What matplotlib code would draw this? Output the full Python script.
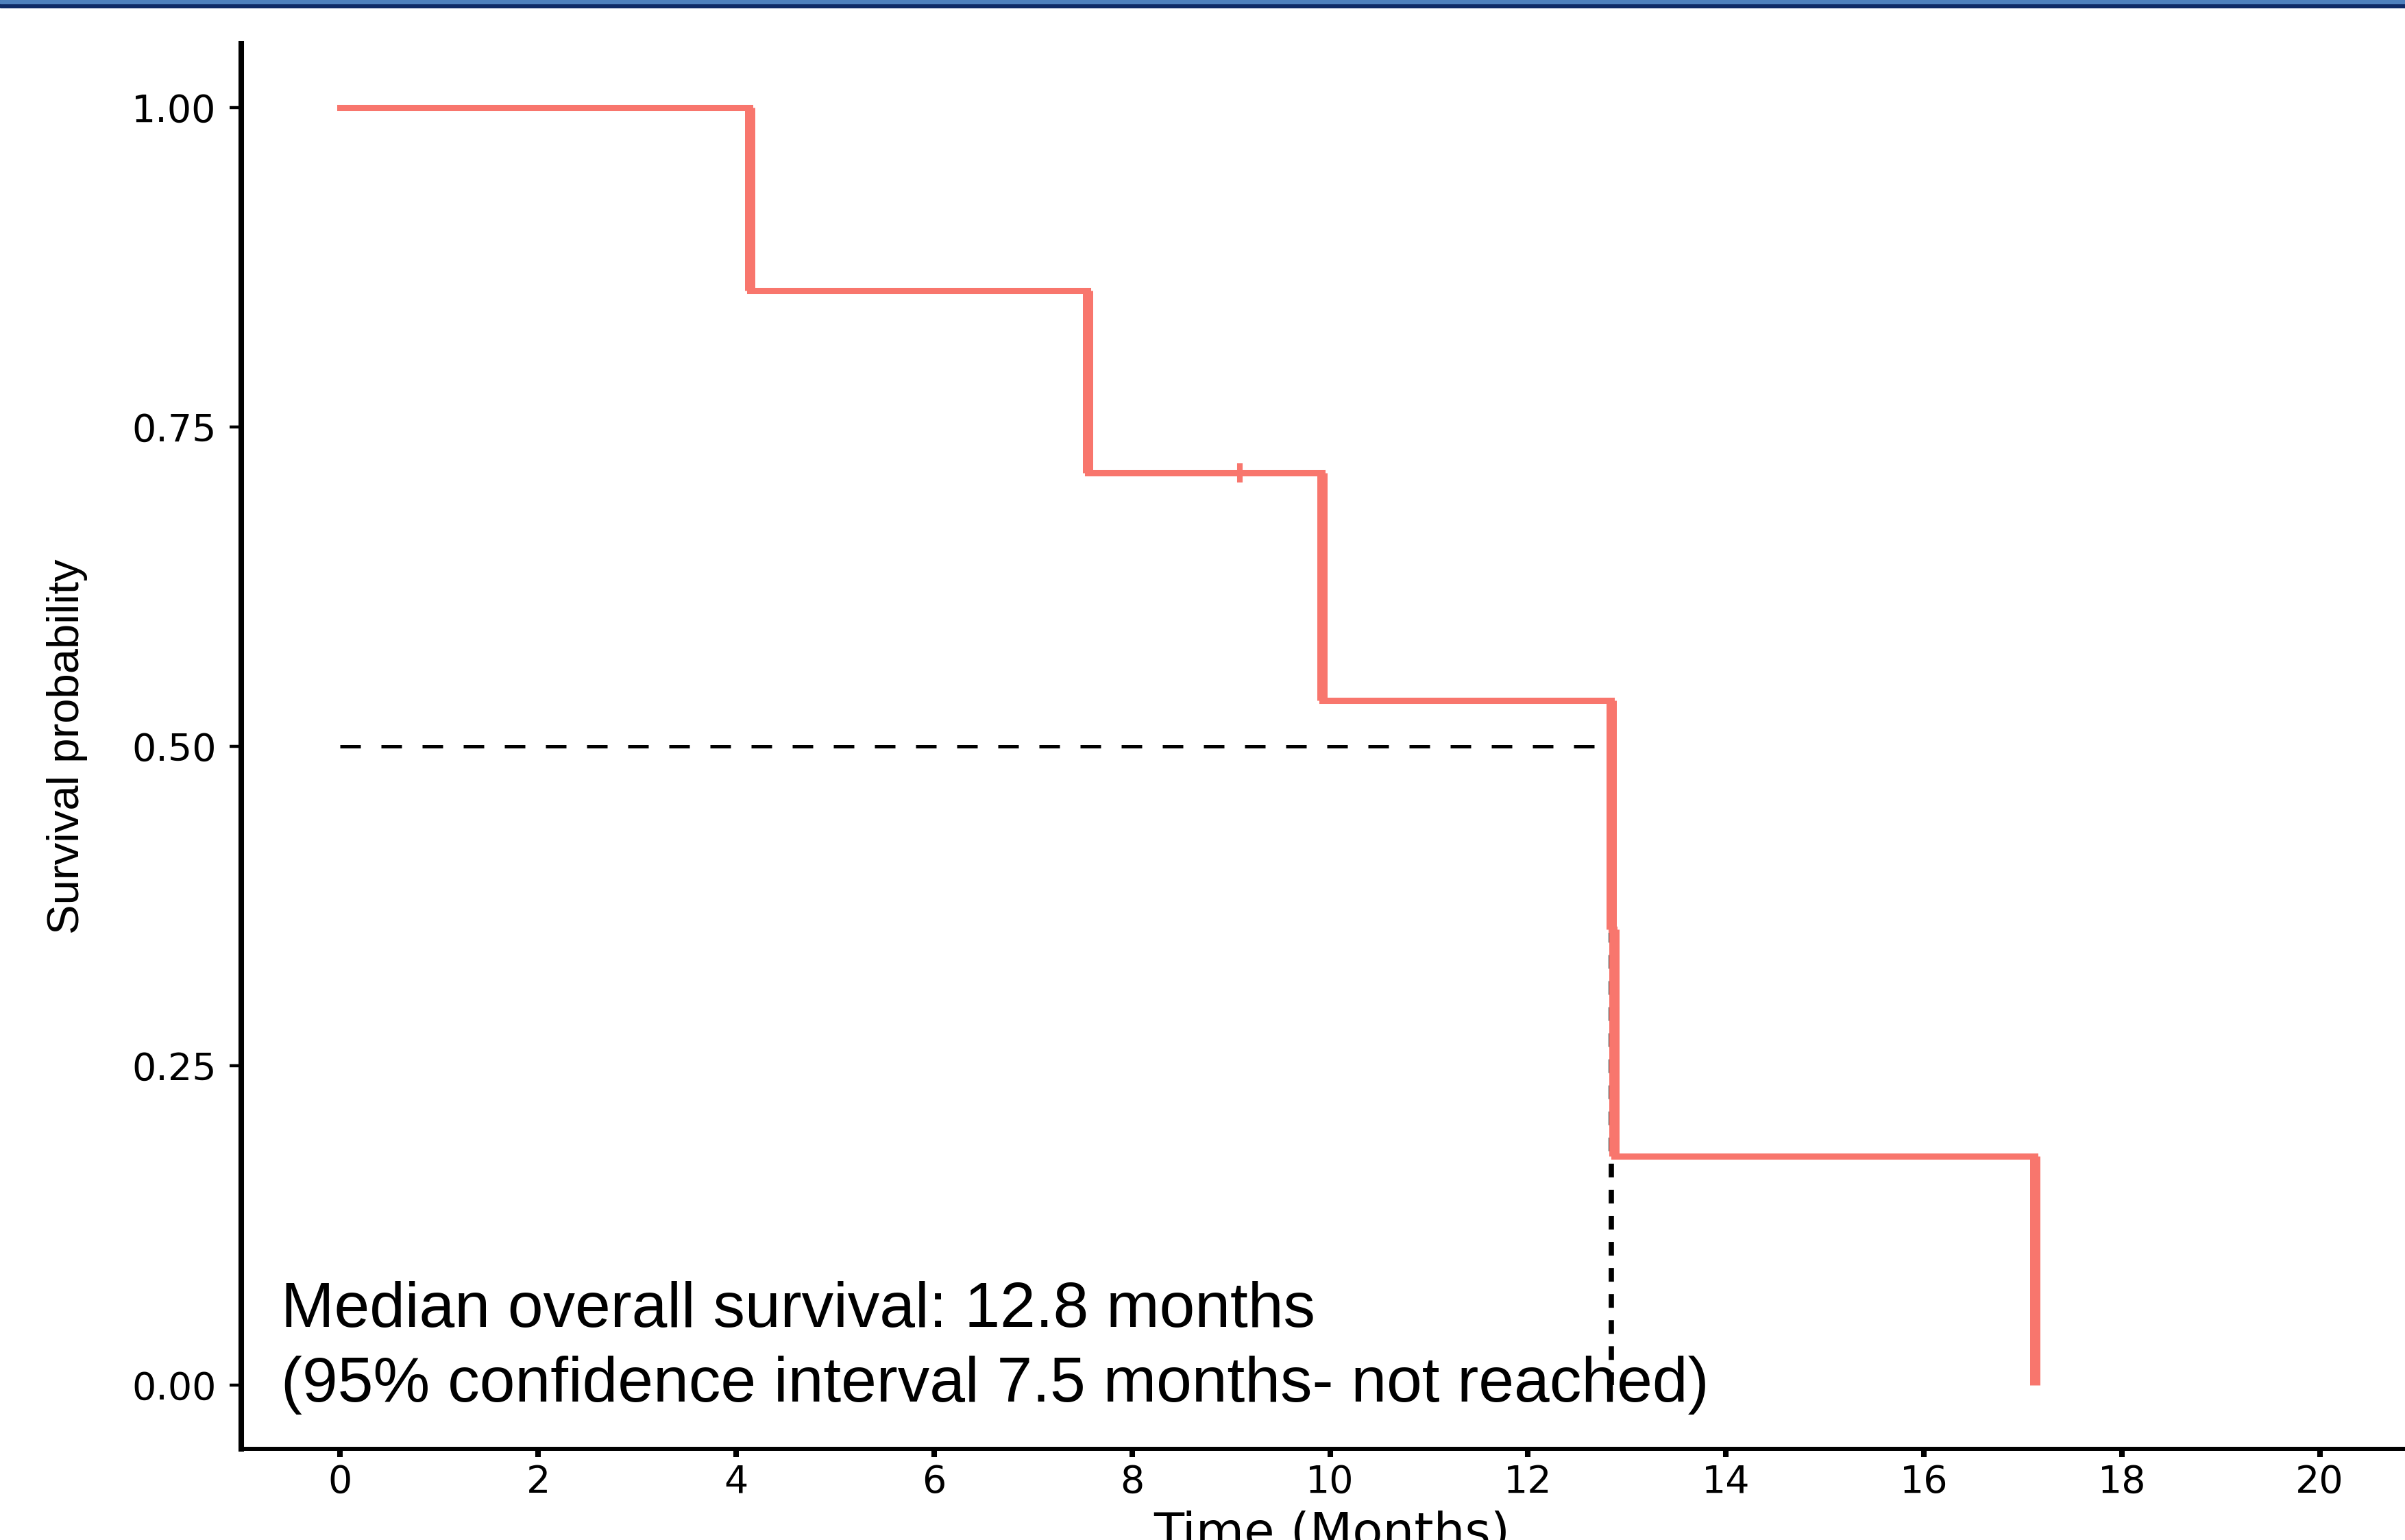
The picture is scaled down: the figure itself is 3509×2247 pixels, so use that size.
import numpy as np
import matplotlib
matplotlib.use('Agg')
import matplotlib.pyplot as plt
from matplotlib.patches import Rectangle

# Kaplan-Meier steps
times = [0, 4.14, 7.55, 9.92, 12.84, 12.87, 17.12]
surv = [1.0, 0.857, 0.714, 0.536, 0.357, 0.179, 0.0]
censor_times = [9.09]
censor_surv = [0.714]
median_time = 12.84

x_ticks = [0, 2, 4, 6, 8, 10, 12, 14, 16, 18, 20]
y_ticks = [0.0, 0.25, 0.50, 0.75, 1.00]
y_tick_labels = ['0.00', '0.25', '0.50', '0.75', '1.00']
note = ('Median overall survival: 12.8 months\n'
        '(95% confidence interval 7.5 months- not reached)')

red = '#F8766D'
W, H = 3509, 2247
plt.rcParams['lines.scale_dashes'] = False

fig = plt.figure(figsize=(W / 100, H / 100), dpi=100)
# axes runs a little past the right edge, as in the (cropped) original
ax = fig.add_axes([352 / W, 1 - 2114 / H, (3529 - 352) / W, 2050 / H])

# survival curve: horizontal and vertical parts drawn separately
ax.hlines(surv[:-1], times[:-1], times[1:], color=red, lw=6.5, capstyle='projecting', zorder=3)
ax.vlines(times[1:], surv[1:], surv[:-1], color=red, lw=10.8, capstyle='butt', zorder=3)
ax.plot(censor_times, censor_surv, ls='none', marker='|', ms=20, mew=5.8, color=red, zorder=4)

# median lines
ax.plot([0, median_time], [0.5, 0.5], color='black', lw=3.6, dashes=(21.6, 21.6), zorder=2)
ax.plot([median_time, median_time], [0.5, 0], color='black', lw=5.5, dashes=(14.4, 13), zorder=2)

ax.text(-0.60, 0.0815, note, ha='left', va='top', fontsize=67,
        family=['Liberation Sans', 'DejaVu Sans'], linespacing=1.35, zorder=5)

ax.set_xlim(-1, 21)
ax.set_ylim(-0.05, 1.05)
ax.set_xticks(x_ticks)
ax.set_xticklabels([str(t) for t in x_ticks])
ax.set_yticks(y_ticks)
ax.set_yticklabels(y_tick_labels)

for s in ['top', 'right']:
    ax.spines[s].set_visible(False)
ax.spines['left'].set_linewidth(5.8)
ax.spines['bottom'].set_linewidth(4.3)

ax.tick_params(axis='x', length=8.6, width=5.8, pad=7, labelsize=40, colors='black')
ax.tick_params(axis='y', length=12.2, width=3.2, pad=14, labelsize=40, colors='black')
for lab in ax.get_xticklabels() + ax.get_yticklabels():
    lab.set_family('DejaVu Sans')

ax.set_xlabel('Time (Months)', fontsize=52, family='DejaVu Sans')
ax.xaxis.set_label_coords(0.5 * (3509 - 352) / (3529 - 352) + 0.004, -0.0435)
ax.xaxis.label.set_va('top')

ax.set_ylabel('Survival probability', fontsize=47,
              family=['Liberation Sans Narrow', 'Liberation Sans', 'DejaVu Sans'])
ax.yaxis.set_label_coords((128 - 352) / (3529 - 352), 0.5)

# blue band along the top edge
fig.patches.append(Rectangle((0, 1 - 11 / H), 1, 11 / H, transform=fig.transFigure,
                             color='#0f2b66', zorder=10))
fig.patches.append(Rectangle((0, 1 - 5 / H), 1, 5 / H, transform=fig.transFigure,
                             color='#4f81bd', zorder=11))

fig.savefig('out.png', dpi=100)
